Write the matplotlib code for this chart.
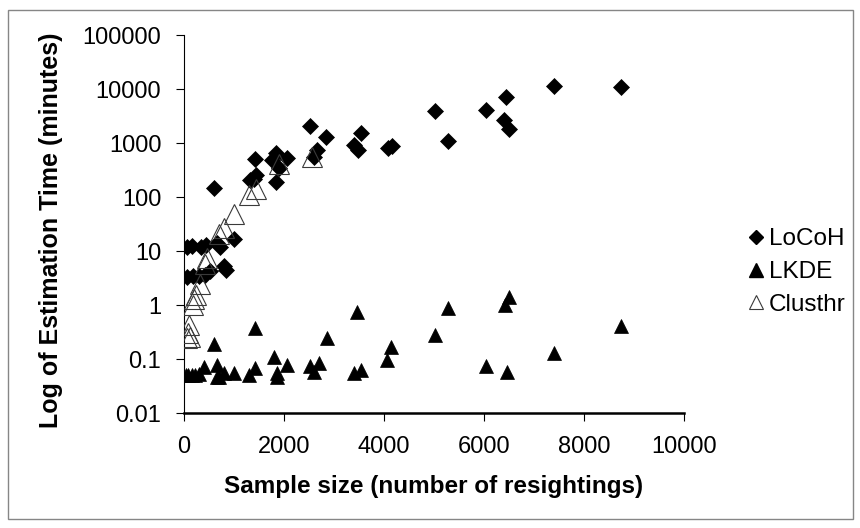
import matplotlib
matplotlib.use("Agg")
import matplotlib.pyplot as plt
from matplotlib.lines import Line2D
from matplotlib.patches import Rectangle
from matplotlib.ticker import FixedLocator, FixedFormatter

plt.rcParams['font.family'] = ['Liberation Sans', 'DejaVu Sans']

# ---- data ----
locoh_x = [60, 150, 330, 430, 650, 720, 990,
           60, 180, 300, 420, 520, 800, 830,
           590, 1320, 1400, 1440, 1420, 1750, 1840, 1840, 1890, 2050,
           2520, 2590, 2650, 2840, 3400, 3470, 3540, 4080, 4150,
           5010, 5270, 6030, 6400, 6430, 6500, 7400, 8740]
locoh_y = [12, 12.5, 12, 13, 14, 12, 17,
           3.3, 3.4, 3.5, 3.6, 4.2, 5.3, 4.5,
           149, 206, 220, 256, 500, 484, 645, 192, 340, 521,
           2090, 557, 741, 1280, 918, 740, 1500, 810, 880,
           3950, 1100, 4050, 2700, 7000, 1820, 11400, 11000]

lkde_x = [30, 80, 150, 220, 300, 390, 650, 590, 650, 700, 790, 990,
          1290, 1420, 1420, 1790, 1850, 1860, 2050, 2520, 2590, 2690,
          2850, 3390, 3450, 3540, 4050, 4130, 5010, 5270, 6030, 6410,
          6450, 6500, 7400, 8740]
lkde_y = [0.05, 0.05, 0.05, 0.05, 0.052, 0.072, 0.078, 0.19, 0.047, 0.047, 0.055, 0.054,
          0.05, 0.067, 0.37, 0.11, 0.054, 0.046, 0.078, 0.074, 0.058, 0.085,
          0.25, 0.056, 0.75, 0.063, 0.096, 0.17, 0.28, 0.89, 0.074, 1.0,
          0.058, 1.43, 0.13, 0.4]

clus_x = [60, 87, 100, 110, 180, 190, 240, 320, 420, 450, 700, 790, 990, 1300, 1440, 1890, 2550]
clus_y = [0.24, 0.3, 0.43, 0.26, 1.0, 1.3, 1.5, 2.4, 5.8, 7.5, 21, 27, 48, 110, 140, 400, 540]

series_names = ["LoCoH", "LKDE", "Clusthr"]
y_ticks = [0.01, 0.1, 1, 10, 100, 1000, 10000, 100000]
y_tick_labels = ["0.01", "0.1", "1", "10", "100", "1000", "10000", "100000"]
x_ticks = [0, 2000, 4000, 6000, 8000, 10000]
x_tick_labels = ["0", "2000", "4000", "6000", "8000", "10000"]
x_label = "Sample size (number of resightings)"
y_label = "Log of Estimation Time (minutes)"

# ---- figure ----
W, H = 860, 528
fig = plt.figure(figsize=(W / 100, H / 100), dpi=100)
ax = fig.add_axes([184 / W, (H - 413) / H, 500 / W, 378 / H])

ax.plot(locoh_x, locoh_y, linestyle='none', marker='D', ms=8.6,
        mfc='black', mec='black', mew=0.5, zorder=3)
ax.plot(lkde_x, lkde_y, linestyle='none', marker='^', ms=9.7,
        mfc='black', mec='black', mew=0.5, zorder=4)
ax.plot(clus_x, clus_y, linestyle='none', marker='^', ms=13.7,
        mfc='none', mec='#3a3a3a', mew=0.8, zorder=5)

ax.set_yscale('log')
ax.set_xlim(0, 10000)
ax.set_ylim(0.01, 100000)
ax.yaxis.set_major_locator(FixedLocator(y_ticks))
ax.yaxis.set_major_formatter(FixedFormatter(y_tick_labels))
ax.yaxis.set_minor_locator(FixedLocator([]))
ax.xaxis.set_major_locator(FixedLocator(x_ticks))
ax.xaxis.set_major_formatter(FixedFormatter(x_tick_labels))

for s in ['top', 'right']:
    ax.spines[s].set_visible(False)
ax.spines['left'].set_linewidth(0.8)
ax.spines['bottom'].set_linewidth(1.8)
ax.spines['left'].set_color('black')
ax.spines['bottom'].set_color('black')

ax.tick_params(axis='y', direction='out', length=5.8, width=0.8, pad=10.5, labelsize=17)
ax.tick_params(axis='x', direction='out', length=5.8, width=0.8, pad=11, labelsize=17)

fig.text(434 / W, 1 - 486 / H, x_label, ha='center', va='center',
         fontsize=17.5, fontweight='bold')
fig.text(51 / W, 1 - 230 / H, y_label, ha='center', va='center',
         rotation=90, fontsize=18, fontweight='bold')

handles = [
    Line2D([], [], linestyle='none', marker='D', ms=7.4, mfc='black', mec='black'),
    Line2D([], [], linestyle='none', marker='^', ms=9.4, mfc='black', mec='black'),
    Line2D([], [], linestyle='none', marker='^', ms=9.4, mfc='none', mec='#3a3a3a', mew=0.8),
]
fig.legend(handles, series_names, loc='center left',
           bbox_to_anchor=(746 / W, 1 - 272 / H), frameon=False,
           fontsize=17.5, handlelength=0.8, handletextpad=0.15,
           labelspacing=0.45, borderpad=0, borderaxespad=0)

fig.add_artist(Rectangle((8 / W, (H - 519) / H), 845 / W, 509 / H,
                         transform=fig.transFigure, fill=False,
                         edgecolor='#868686', linewidth=1.0))

fig.savefig("out.png", dpi=100)
